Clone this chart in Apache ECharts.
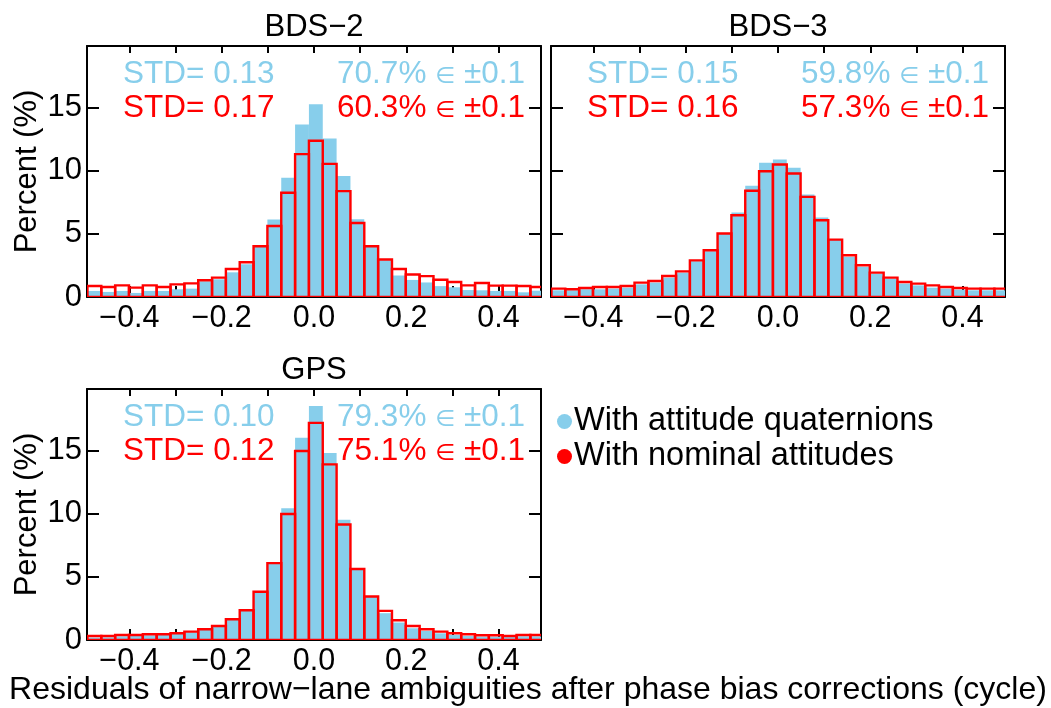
<!DOCTYPE html>
<html>
<head>
<meta charset="utf-8">
<title>Narrow-lane ambiguity residuals</title>
<script src="https://cdn.jsdelivr.net/npm/echarts@6/dist/echarts.min.js"></script>
<style>
  html, body { margin: 0; padding: 0; background: #ffffff; }
  #chart { width: 1051px; height: 708px; }
</style>
</head>
<body>
<div id="chart"></div>
<script>
// Histogram bins: 33 bins of width 0.03 cycle
const binStart = -0.491;
const binWidth = 0.03;

// Percent of residuals per bin
const bds2Quaternion = [0.48, 0.40, 0.48, 0.32, 0.48, 0.48, 0.61, 0.66, 1.24, 1.40, 1.95, 2.59, 3.96, 6.13, 9.43, 13.65, 15.24, 12.54, 9.56, 6.14, 3.98, 2.90, 1.70, 1.35, 1.15, 0.86, 0.77, 0.55, 0.53, 0.48, 0.48, 0.37, 0.50];
const bds2Nominal    = [0.87, 0.79, 0.92, 0.74, 0.92, 0.79, 1.00, 1.08, 1.32, 1.53, 2.22, 2.75, 4.01, 5.62, 8.24, 11.30, 12.36, 10.53, 8.37, 5.85, 4.01, 2.97, 2.22, 1.78, 1.65, 1.37, 1.19, 0.92, 1.11, 0.90, 0.90, 0.87, 0.79];
const bds3Quaternion = [0.53, 0.53, 0.61, 0.61, 0.66, 0.74, 1.00, 1.14, 1.53, 1.93, 2.83, 3.62, 5.02, 6.68, 8.79, 10.62, 10.88, 10.22, 8.11, 6.28, 4.50, 3.17, 2.38, 1.85, 1.45, 1.06, 0.92, 0.74, 0.66, 0.58, 0.53, 0.53, 0.53];
const bds3Nominal    = [0.66, 0.61, 0.71, 0.79, 0.79, 0.87, 1.14, 1.27, 1.66, 2.03, 2.90, 3.70, 5.02, 6.47, 8.40, 9.95, 10.48, 9.77, 7.92, 6.07, 4.54, 3.30, 2.51, 1.93, 1.53, 1.19, 1.06, 0.92, 0.79, 0.71, 0.66, 0.66, 0.66];
const gpsQuaternion  = [0.19, 0.21, 0.29, 0.32, 0.37, 0.40, 0.48, 0.61, 0.82, 1.06, 1.58, 2.30, 3.81, 6.08, 10.42, 16.00, 18.50, 14.79, 9.50, 5.61, 3.44, 2.12, 1.38, 0.93, 0.71, 0.53, 0.40, 0.32, 0.26, 0.26, 0.24, 0.29, 0.29];
const gpsNominal     = [0.32, 0.32, 0.40, 0.40, 0.45, 0.45, 0.53, 0.66, 0.85, 1.11, 1.64, 2.35, 3.81, 6.08, 9.97, 14.95, 17.17, 13.89, 9.13, 5.61, 3.44, 2.30, 1.56, 1.11, 0.85, 0.66, 0.53, 0.45, 0.37, 0.37, 0.32, 0.40, 0.40];

// Panel titles and statistics
const panelTitles = ['BDS\u22122', 'BDS\u22123', 'GPS'];
const stdQuaternion = ['0.13', '0.15', '0.10'];
const stdNominal    = ['0.17', '0.16', '0.12'];
const pctQuaternion = ['70.7', '59.8', '79.3'];
const pctNominal    = ['60.3', '57.3', '75.1'];

// Axis ticks
const xTickValues  = [-0.4, -0.3, -0.2, -0.1, 0, 0.1, 0.2, 0.3, 0.4];
const xLabelValues = [-0.4, -0.2, 0, 0.2, 0.4];
const yTickValues  = [0, 5, 10, 15];

const seriesNames = ['With attitude quaternions', 'With nominal attitudes'];

const SKY = '#87ceeb';
const RED = '#ff0000';
const FONT = '"Liberation Sans", Arial, Helvetica, sans-serif';
const FS_TICK = 30.5;
const FS_YTICK = 31;
const FS_TITLE = 31;
const FS_STAT = 31.5;
const FS_LEGEND = 32.5;
const FS_XTITLE = 32;

const quatSets = [bds2Quaternion, bds3Quaternion, gpsQuaternion];
const nomSets  = [bds2Nominal, bds3Nominal, gpsNominal];

const gridRects = [
  { left: 87,  top: 46,  width: 454, height: 251 },
  { left: 551, top: 46,  width: 454, height: 251 },
  { left: 87,  top: 389, width: 454, height: 251 }
];
const showYLabels = [true, false, true];

function toBins(values) {
  return values.map((v, i) => [binStart + i * binWidth, binStart + (i + 1) * binWidth, v]);
}

function minusFmt(v) {
  const s = Math.abs(v).toFixed(1);
  return v < -1e-9 ? '\u2212' + s : s;
}

function makeRender(kind) {
  return function (params, api) {
    const x0 = api.value(0), x1 = api.value(1), v = api.value(2);
    const pTop = api.coord([x0, v]);
    const pBot = api.coord([x1, 0]);
    const shape = { x: pTop[0], y: pTop[1], width: pBot[0] - pTop[0], height: pBot[1] - pTop[1] };
    if (kind === 'fill') {
      return { type: 'rect', shape: shape, style: { fill: SKY, stroke: null } };
    }
    return { type: 'rect', shape: shape, style: { fill: null, stroke: RED, lineWidth: 2.4 } };
  };
}

function textEl(x, y, text, color, size, align, rich) {
  const style = {
    text: text, fill: color, font: size + 'px ' + FONT,
    textAlign: align, textVerticalAlign: 'middle', align: align, verticalAlign: 'middle'
  };
  if (rich) style.rich = rich;
  return { type: 'text', x: x, y: y, style: style };
}

const axisLineStyle = { color: '#000', width: 2 };

const grid = [], xAxis = [], yAxis = [], series = [], graphic = [];

gridRects.forEach((g, i) => {
  grid.push(Object.assign({ containLabel: false }, g));

  // bottom x axis
  xAxis.push({
    type: 'value', gridIndex: i, position: 'bottom', min: -0.492, max: 0.492,
    axisLine: { show: true, onZero: false, lineStyle: axisLineStyle },
    axisTick: { show: true, inside: true, length: 11, lineStyle: axisLineStyle, customValues: xTickValues },
    axisLabel: { show: true, customValues: xLabelValues, formatter: minusFmt, color: '#000', fontSize: FS_TICK, fontFamily: FONT, margin: 6 },
    splitLine: { show: false }
  });
  // top x axis (frame + ticks)
  xAxis.push({
    type: 'value', gridIndex: i, position: 'top', min: -0.492, max: 0.492,
    axisLine: { show: true, onZero: false, lineStyle: axisLineStyle },
    axisTick: { show: true, inside: true, length: 7, lineStyle: axisLineStyle, customValues: xTickValues },
    axisLabel: { show: false },
    splitLine: { show: false }
  });
  // left y axis
  yAxis.push({
    type: 'value', gridIndex: i, position: 'left', min: 0, max: 19.85,
    name: showYLabels[i] ? 'Percent (%)' : '',
    nameLocation: 'middle', nameRotate: 90, nameGap: 44,
    nameTextStyle: { color: '#000', fontSize: FS_YTICK, fontFamily: FONT },
    axisLine: { show: true, onZero: false, lineStyle: axisLineStyle },
    axisTick: { show: true, inside: true, length: 12, lineStyle: axisLineStyle, customValues: yTickValues },
    axisLabel: { show: showYLabels[i], customValues: yTickValues, color: '#000', fontSize: FS_YTICK, fontFamily: FONT, margin: 5 },
    splitLine: { show: false }
  });
  // right y axis (frame + ticks)
  yAxis.push({
    type: 'value', gridIndex: i, position: 'right', min: 0, max: 19.85,
    axisLine: { show: true, onZero: false, lineStyle: axisLineStyle },
    axisTick: { show: true, inside: true, length: 12, lineStyle: axisLineStyle, customValues: yTickValues },
    axisLabel: { show: false },
    splitLine: { show: false }
  });

  series.push({
    type: 'custom', name: seriesNames[0], xAxisIndex: 2 * i, yAxisIndex: 2 * i,
    renderItem: makeRender('fill'), data: toBins(quatSets[i]), clip: true,
    itemStyle: { color: SKY }, encode: { x: [0, 1], y: 2 }
  });
  series.push({
    type: 'custom', name: seriesNames[1], xAxisIndex: 2 * i, yAxisIndex: 2 * i,
    renderItem: makeRender('outline'), data: toBins(nomSets[i]), clip: true,
    itemStyle: { color: RED }, encode: { x: [0, 1], y: 2 }
  });

  // panel title
  graphic.push(textEl(g.left + 227, g.top - 19, panelTitles[i], '#000', FS_TITLE, 'center'));

  // statistics
  const rows = [
    { y: g.top + 28, color: SKY, std: stdQuaternion[i], pct: pctQuaternion[i] },
    { y: g.top + 62, color: RED, std: stdNominal[i], pct: pctNominal[i] }
  ];
  rows.forEach(r => {
    graphic.push(textEl(g.left + 36, r.y, 'STD= ' + r.std, r.color, FS_STAT, 'left'));
    const rich = {
      n: { fill: r.color, font: FS_STAT + 'px ' + FONT, verticalAlign: 'bottom' },
      e: { fill: r.color, font: '23px "DejaVu Sans", sans-serif', verticalAlign: 'bottom', padding: [0, 0, 1, 0] }
    };
    graphic.push(textEl(g.left + g.width - 16, r.y,
      '{n|' + r.pct + '% }{e|\u2208}{n| \u00b10.1}', r.color, FS_STAT, 'right', rich));
  });
});

// x axis title below the bottom panel
graphic.push(textEl(528, 690, 'Residuals of narrow\u2212lane ambiguities after phase bias corrections (cycle)', '#000', FS_XTITLE, 'center'));

const option = {
  animation: false,
  backgroundColor: '#ffffff',
  grid: grid,
  xAxis: xAxis,
  yAxis: yAxis,
  series: series,
  graphic: graphic,
  legend: {
    orient: 'vertical', left: 557, top: 405, padding: 0,
    itemWidth: 15, itemHeight: 15, itemGap: 2, selectedMode: false,
    textStyle: { color: '#000', fontSize: FS_LEGEND, fontFamily: FONT, padding: [0, 0, 0, -3] },
    data: [
      { name: seriesNames[0], icon: 'circle', itemStyle: { color: SKY } },
      { name: seriesNames[1], icon: 'circle', itemStyle: { color: RED } }
    ]
  }
};

const chart = echarts.init(document.getElementById('chart'), null, { renderer: 'canvas' });
chart.setOption(option);
</script>
</body>
</html>
